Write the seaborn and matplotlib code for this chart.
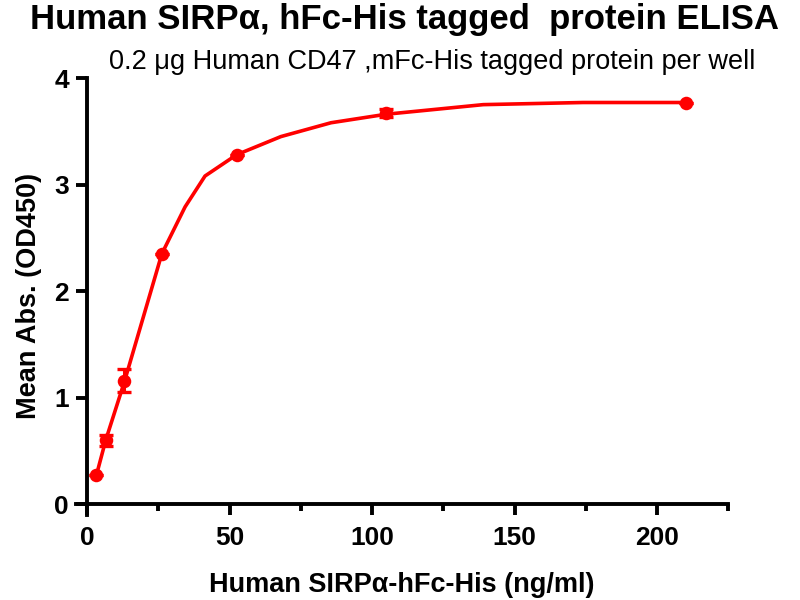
import numpy as np
import pandas as pd
import matplotlib
matplotlib.use("Agg")
import matplotlib.pyplot as plt
import seaborn as sns

# Messpunkte
conc = [3.28, 6.56, 13.125, 26.25, 52.5, 105, 210]
od450 = [0.27, 0.60, 1.16, 2.35, 3.28, 3.67, 3.77]
sem = [0.0, 0.05, 0.11, 0.0, 0.0, 0.035, 0.0]

# Fitkurve
fit_x = [3.28, 6.56, 13.125, 26.25, 34.4, 41.4, 52.5, 68, 85.6, 105, 139, 174, 210]
fit_y = [0.27, 0.60, 1.15, 2.35, 2.79, 3.08, 3.28, 3.45, 3.58, 3.66, 3.75, 3.77, 3.77]

points = pd.DataFrame({"conc": conc, "od": od450, "err": sem})
curve = pd.DataFrame({"x": fit_x, "y": fit_y})

sns.set_style("ticks")
plt.rcParams["font.family"] = ["Liberation Sans", "DejaVu Sans"]
plt.rcParams["text.color"] = "black"
plt.rcParams["axes.labelcolor"] = "black"
plt.rcParams["xtick.color"] = "black"
plt.rcParams["ytick.color"] = "black"
plt.rcParams["axes.edgecolor"] = "black"
plt.rcParams["axes.linewidth"] = 2.8

fig = plt.figure(figsize=(8, 6), dpi=100)
ax = fig.add_axes([0.0945, 0.142, 0.816, 0.728])

red = "#ff0000"
sns.lineplot(data=curve, x="x", y="y", color=red, linewidth=2.6, ax=ax)
ax.errorbar(points["conc"], points["od"], yerr=points["err"], fmt="none",
            ecolor=red, elinewidth=2.2, capsize=5, capthick=2.4)
sns.scatterplot(data=points, x="conc", y="od", color=red, s=95,
                edgecolor=red, linewidth=0, ax=ax, zorder=5)

ax.set_xlim(-4, 225)
ax.set_ylim(-0.1, 4.0)
ax.spines["left"].set_position(("data", 0))
ax.spines["bottom"].set_position(("data", 0))
ax.spines["right"].set_visible(False)
ax.spines["top"].set_visible(False)
for s in ["left", "bottom"]:
    ax.spines[s].set_linewidth(2.8)
    ax.spines[s].set_color("black")

ax.set_xticks([0, 50, 100, 150, 200])
ax.set_xticks([25, 75, 125, 175, 225], minor=True)
ax.set_yticks([0, 1, 2, 3, 4])
ax.tick_params(axis="both", which="major", length=8, width=2.8, labelsize=19,
               pad=5, colors="black")
ax.tick_params(axis="x", which="minor", length=5, width=2.8, colors="black")
ax.tick_params(axis="x", which="major", pad=8)
for lab in ax.get_xticklabels() + ax.get_yticklabels():
    lab.set_fontweight("bold")

ax.set_xlabel("Human SIRPα-hFc-His (ng/ml)", fontsize=19.5, fontweight="bold")
ax.set_ylabel("Mean Abs. (OD450)", fontsize=19.5, fontweight="bold")
ax.xaxis.set_label_coords(0.5, -0.13)
ax.yaxis.set_label_coords(-0.052, 0.5)

fig.text(0.506, 0.995, "Human SIRPα, hFc-His tagged  protein ELISA", ha="center", va="top",
         fontsize=25, fontweight="bold")
fig.text(0.54, 0.918, "0.2 μg Human CD47 ,mFc-His tagged protein per well", ha="center",
         va="top", fontsize=19.5)

plt.savefig("out.png", dpi=100)
plt.close()
